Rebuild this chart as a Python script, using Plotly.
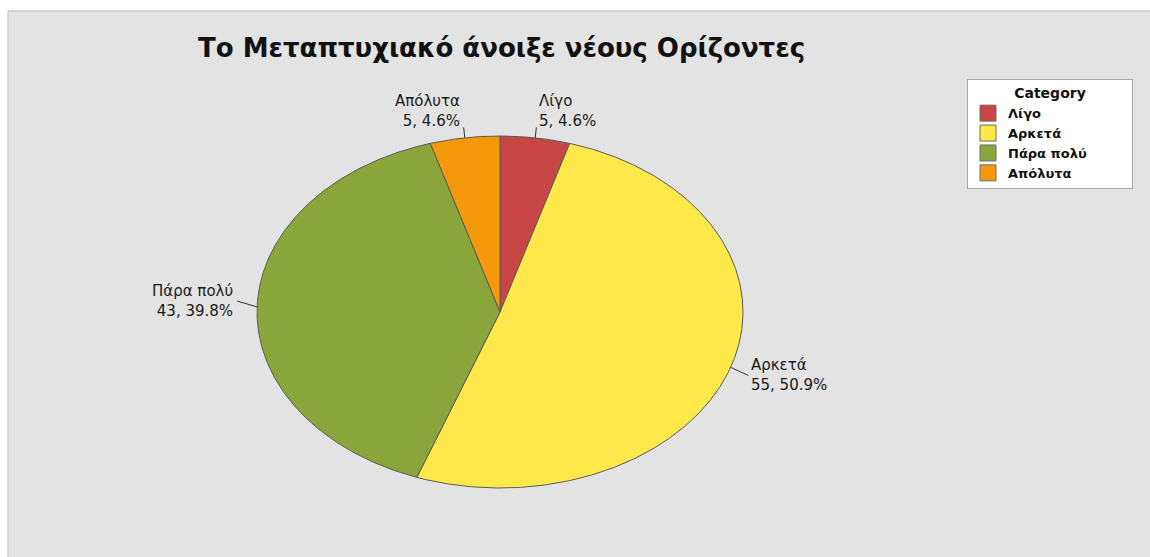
import numpy as np
import plotly.graph_objects as go

# ---- data ----
categories = ["Λίγο", "Αρκετά", "Πάρα πολύ", "Απόλυτα"]
counts = [5, 55, 43, 5]
colors = ["#C94646", "#FFE94A", "#8AA63A", "#F5980B"]
chart_title = "Το Μεταπτυχιακό άνοιξε νέους Ορίζοντες"
legend_title = "Category"

# ---- layout geometry (pixels, figure coordinates) ----
W, H = 1150, 557
cx, cy, rx, ry = 500, 312, 243, 176
FONT = "DejaVu Sans"
GRAY = "#e3e3e3"

total = sum(counts)
fig = go.Figure()
shapes = [
    dict(type="rect", xref="x", yref="y", x0=-5, y0=-5, x1=W + 5, y1=11,
         fillcolor="white", line=dict(width=0), layer="below"),
    dict(type="rect", xref="x", yref="y", x0=-5, y0=-5, x1=8, y1=H + 5,
         fillcolor="white", line=dict(width=0), layer="below"),
    dict(type="line", xref="x", yref="y", x0=8, y0=11, x1=W + 5, y1=11,
         line=dict(color="#cfcfcf", width=1.5), layer="below"),
    dict(type="line", xref="x", yref="y", x0=8, y0=11, x1=8, y1=H + 5,
         line=dict(color="#cfcfcf", width=1.5), layer="below"),
]
annotations = []

start = 0.0
for cat, c, col in zip(categories, counts, colors):
    f = c / total
    n = max(int(f * 900), 6)
    th = 2 * np.pi * np.linspace(start, start + f, n)
    xs = np.concatenate([[cx], cx + rx * np.sin(th), [cx]])
    ys = np.concatenate([[cy], cy - ry * np.cos(th), [cy]])
    fig.add_trace(go.Scatter(
        x=xs, y=ys, mode="lines", fill="toself", fillcolor=col,
        line=dict(color="#5a5a5a", width=1), showlegend=False,
        hoverinfo="text", text=f"{cat}: {c}", legendgroup=cat))
    # legend entry
    fig.add_trace(go.Scatter(
        x=[None], y=[None], mode="markers", name=cat, legendgroup=cat,
        marker=dict(symbol="square", size=16, color=col,
                    line=dict(color="#6a6a6a", width=1))))
    # label + leader
    mid = 2 * np.pi * (start + f / 2)
    s, co = np.sin(mid), np.cos(mid)
    ex, ey = cx + rx * s, cy - ry * co
    nx, ny = s / rx, -co / ry
    nl = np.hypot(nx, ny)
    nx, ny = nx / nl, ny / nl
    L = 9 + 11 * abs(s)
    ox, oy = ex + nx * L, ey + ny * L
    if s < -0.9:
        oy -= 5
    shapes.append(dict(type="line", xref="x", yref="y", x0=ex, y0=ey, x1=ox, y1=oy,
                       line=dict(color="#333333", width=1)))
    if co > 0.7:
        yanchor = "bottom"
    elif co < -0.7:
        yanchor = "top"
    else:
        yanchor = "middle"
    xanchor = "left" if s >= 0 else "right"
    annotations.append(dict(
        x=ox + (1 if s >= 0 else -2), y=oy + (5 if yanchor == "bottom" else 0),
        xref="x", yref="y", showarrow=False,
        text=f"{cat}<br>{c}, {100 * c / total:.1f}%",
        xanchor=xanchor, yanchor=yanchor, align=xanchor,
        font=dict(family=FONT, size=15, color="#1a1a1a")))
    start += f

annotations.append(dict(
    x=501, y=48, xref="x", yref="y", showarrow=False, text=f"<b>{chart_title}</b>",
    xanchor="center", yanchor="middle",
    font=dict(family=FONT, size=26, color="#111111")))

pad = "\u00a0" * 9
fig.update_layout(
    width=W, height=H,
    margin=dict(l=0, r=0, t=0, b=0),
    paper_bgcolor=GRAY, plot_bgcolor=GRAY,
    xaxis=dict(range=[0, W], visible=False, fixedrange=True),
    yaxis=dict(range=[H, 0], visible=False, fixedrange=True),
    shapes=shapes, annotations=annotations,
    showlegend=True,
    legend=dict(
        x=967 / W, y=1 - 79 / H, xanchor="left", yanchor="top",
        bgcolor="white", bordercolor="#a8a8a8", borderwidth=1,
        font=dict(family=FONT, size=13, color="#111111", weight="bold"),
        title=dict(text=pad + "<b>" + legend_title + "</b>" + pad, side="top center",
                   font=dict(family=FONT, size=14, color="#111111")),
        tracegroupgap=0, itemclick=False, itemdoubleclick=False,
    ),
)

fig.write_html(
    "out.html",
    config={"displayModeBar": False},
    post_script=("document.documentElement.style.overflow='hidden';"
                 "document.body.style.margin='0';document.body.style.overflow='hidden';"
                 "document.body.style.background='" + GRAY + "';"),
)
